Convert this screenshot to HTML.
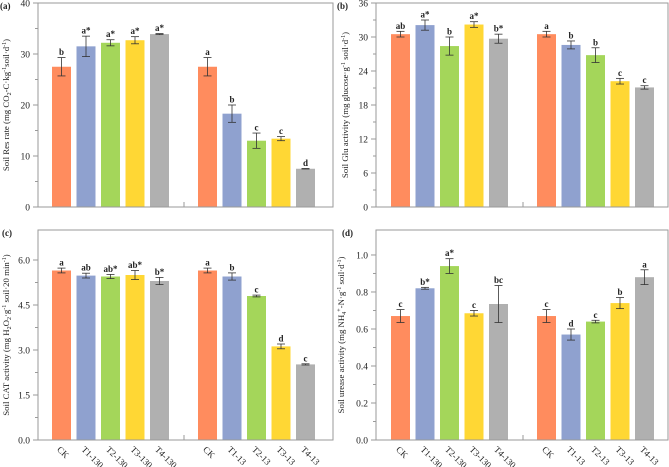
<!DOCTYPE html>
<html><head><meta charset="utf-8"><style>
body{margin:0;background:#fff}
svg{display:block;font-family:"Liberation Serif",serif}
</style></head><body>
<svg id="chart" width="669" height="467" viewBox="0 0 669 467" xmlns="http://www.w3.org/2000/svg"></svg>
<script>
const categories = ["CK","T1-130","T2-130","T3-130","T4-130","CK","T1-13","T2-13","T3-13","T4-13"];
const colors = ["#FF8C5E","#8FA1CF","#A4D65A","#FFD734","#B0B0B0"];
const resValues = [27.5,31.5,32.2,32.7,33.9,27.5,18.3,13.0,13.4,7.5];
const resErrors = [1.8,2.0,0.6,0.7,0.1,1.8,1.7,1.5,0.4,0.05];
const resLetters = ["b","a*","a*","a*","a*","a","b","c","c","d"];
const gluValues = [30.5,32.1,28.4,32.2,29.7,30.5,28.6,26.8,22.2,21.1];
const gluErrors = [0.5,0.9,1.6,0.5,0.8,0.5,0.7,1.3,0.5,0.3];
const gluLetters = ["ab","a*","b","a*","b*","a","b","b","c","c"];
const catValues = [5.65,5.48,5.45,5.5,5.3,5.65,5.45,4.8,3.12,2.52];
const catErrors = [0.08,0.08,0.07,0.15,0.12,0.08,0.12,0.03,0.08,0.02];
const catLetters = ["a","ab","ab*","ab*","b*","a","b","c","d","c"];
const ureValues = [0.67,0.82,0.94,0.685,0.735,0.67,0.57,0.64,0.74,0.88];
const ureErrors = [0.035,0.005,0.04,0.015,0.1,0.035,0.03,0.007,0.03,0.04];
const ureLetters = ["c","b*","a*","c","bc","c","d","c","b","a"];
const resTicks = ["0","10","20","30","40"];
const gluTicks = ["0","6","12","18","24","30","36"];
const catTicks = ["0.0","1.5","3.0","4.5","6.0"];
const ureTicks = ["0.0","0.2","0.4","0.6","0.8","1.0"];

const svg = document.getElementById('chart');
const NS = "http://www.w3.org/2000/svg";
function mk(tag, attrs, parent){const e=document.createElementNS(NS,tag);for(const k in attrs)e.setAttribute(k,attrs[k]);(parent||svg).appendChild(e);return e;}

function panel(o){
  const g = mk('g',{});
  
  
  const y = v => o.bot - v/o.max*(o.bot-o.top);
  const bx = i => o.left + o.off + (i<5 ? i*24.5 : 146 + (i-5)*24.5);
  const fr = mk('rect',{x:o.left,y:o.top,width:o.right-o.left,height:o.bot-o.top,fill:'none',stroke:'#9a9a9a','stroke-width':1},g);
  
  
  o.ticks.forEach((t,i)=>{
    const v = parseFloat(t);
    const yy = y(v);
    mk('line',{x1:o.left-5,x2:o.left,y1:yy,y2:yy,stroke:'#9a9a9a'},g);
    const tl = mk('text',{x:o.left-8,y:yy+3.5,'font-size':9.5,'text-anchor':'end',fill:'#222'},g);
    tl.textContent = t;
    
    
    if(i<o.ticks.length-1){
      const m = v + o.step/2;
      mk('line',{x1:o.left-3,x2:o.left,y1:y(m),y2:y(m),stroke:'#9a9a9a'},g);
    }
  });
  mk('line',{x1:o.left+o.off+132,x2:o.left+o.off+132,y1:o.bot,y2:o.bot-5,stroke:'#9a9a9a'},g);
  o.values.forEach((v,i)=>{
    const x = bx(i);
    const r = mk('rect',{x:x,y:y(v),width:19,height:o.bot-y(v)-0.5,fill:colors[i%5]},g);
    
    
    const e = o.errors[i], cx = x+9.5;
    mk('line',{x1:cx,x2:cx,y1:y(v+e),y2:y(v-e),stroke:'#333','stroke-width':0.8},g);
    mk('line',{x1:cx-4,x2:cx+4,y1:y(v+e),y2:y(v+e),stroke:'#333','stroke-width':0.8},g);
    mk('line',{x1:cx-4,x2:cx+4,y1:y(v-e),y2:y(v-e),stroke:'#333','stroke-width':0.8},g);
    const lt = mk('text',{x:cx,y:y(v+e)-2.5,'font-size':9,'font-weight':'bold','text-anchor':'middle',fill:'#222'},g);
    lt.textContent = o.letters[i];
    
    
    if(o.xlabels){
      const xl = mk('text',{x:cx-5,y:o.bot+10,'font-size':9,fill:'#222',transform:`rotate(45 ${cx-5} ${o.bot+10})`},g);
      xl.textContent = categories[i];
      
      
    }
  });
  const ty = mk('text',{x:0,y:0,'font-size':8.8,'text-anchor':'middle',fill:'#222',transform:`translate(${o.tx} ${(o.top+o.bot)/2}) rotate(-90)`},g);
  ty.innerHTML = o.title;
  
  
  const pl = mk('text',{x:o.lx,y:o.top+6,'font-size':9,'font-weight':'bold',fill:'#222'},g);
  pl.textContent = o.label;
  
  
}

panel({name:'panel-a-res',left:38,right:333,top:3,bot:207,off:14,max:40,step:10,ticks:resTicks,values:resValues,errors:resErrors,letters:resLetters,tx:9,lx:0,label:'(a)',
  title:'Soil Res rate (mg CO<tspan dy="2" font-size="6">2</tspan><tspan dy="-2">-C·kg</tspan><tspan dy="-3" font-size="6">-1</tspan><tspan dy="3">soil·d</tspan><tspan dy="-3" font-size="6">-1</tspan><tspan dy="3">)</tspan>'});
panel({name:'panel-b-glu',left:376,right:668,top:3,bot:207,off:15,max:36,step:6,ticks:gluTicks,values:gluValues,errors:gluErrors,letters:gluLetters,tx:348,lx:337,label:'(b)',
  title:'Soil Glu activity (mg glucose·g<tspan dy="-3" font-size="6">-1</tspan><tspan dy="3"> soil·d</tspan><tspan dy="-3" font-size="6">-1</tspan><tspan dy="3">)</tspan>'});
panel({name:'panel-c-cat',left:38,right:333,top:230,bot:440,off:14,max:7,step:1.5,ticks:catTicks,values:catValues,errors:catErrors,letters:catLetters,tx:9,lx:2,label:'(c)',xlabels:true,
  title:'Soil CAT activity (mg H<tspan dy="2" font-size="6">2</tspan><tspan dy="-2">O</tspan><tspan dy="2" font-size="6">2</tspan><tspan dy="-2">·g</tspan><tspan dy="-3" font-size="6">-1</tspan><tspan dy="3"> soil·20 min</tspan><tspan dy="-3" font-size="6">-1</tspan><tspan dy="3">)</tspan>'});
panel({name:'panel-d-urease',left:376,right:668,top:230,bot:440,off:15,max:1.135,step:0.2,ticks:ureTicks,values:ureValues,errors:ureErrors,letters:ureLetters,tx:344,lx:342,label:'(d)',xlabels:true,
  title:'Soil urease activity (mg NH<tspan dy="2" font-size="6">4</tspan><tspan dy="-5" font-size="6">+</tspan><tspan dy="3">-N·g</tspan><tspan dy="-3" font-size="6">-1</tspan><tspan dy="3"> soil·d</tspan><tspan dy="-3" font-size="6">-1</tspan><tspan dy="3">)</tspan>'});
</script>
</body></html>
